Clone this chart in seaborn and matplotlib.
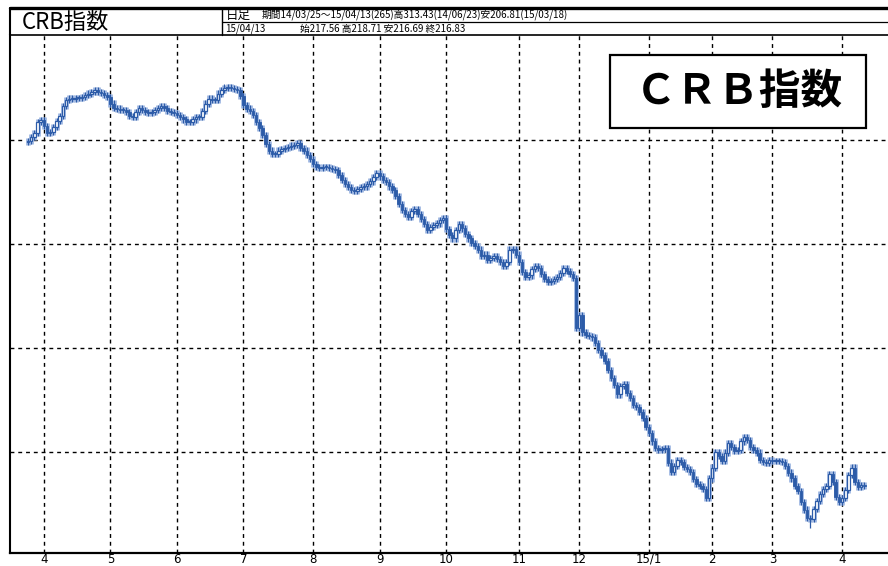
import numpy as np
import pandas as pd
import matplotlib
matplotlib.use("Agg")
import matplotlib.pyplot as plt
from matplotlib.lines import Line2D
from matplotlib.patches import Rectangle
import matplotlib.transforms as mtransforms
import seaborn as sns

# ---------------- data ----------------
start_date = "2014-03-25"
end_date = "2015-04-13"
holidays = ["2014-04-18", "2014-05-26", "2014-07-04", "2014-09-01", "2014-11-27",
            "2014-12-25", "2015-01-01", "2015-01-19", "2015-02-16", "2015-04-03"]

first_open = 299.5
closes = [
    299.8, 300.7, 301.7, 304.3, 304.8, 303.4, 301.7, 301.9, 303.1, 304.6,
    305.8, 308.2, 309.6, 309.9, 309.9, 310.1, 310.1, 310.3, 310.8, 311.1,
    311.5, 312.0, 311.5, 311.3, 310.8, 310.3, 308.7, 307.7, 307.5, 307.2,
    307.2, 306.7, 305.8, 305.5, 306.7, 307.7, 307.2, 306.7, 306.5, 306.7,
    307.2, 307.7, 308.2, 307.7, 307.0, 306.7, 306.5, 306.0, 305.5, 305.0,
    304.3, 304.3, 305.0, 305.5, 305.5, 307.0, 308.7, 309.9, 309.6, 309.6,
    311.1, 312.0, 312.5, 312.7, 312.5, 312.3, 312.0, 310.6, 308.4, 307.5,
    307.0, 306.0, 304.3, 302.9, 301.2, 299.0, 297.4, 296.6, 296.6, 297.4,
    297.8, 298.1, 298.3, 298.6, 298.8, 299.3, 298.1, 297.4, 296.4, 295.4,
    294.2, 293.5, 293.3, 293.5, 293.5, 293.3, 293.0, 292.8, 291.6, 290.4,
    289.4, 288.7, 288.0, 287.7, 288.2, 288.7, 288.9, 289.4, 290.1, 291.1,
    292.1, 291.3, 290.4, 289.9, 288.9, 288.0, 286.5, 284.6, 283.2, 282.2,
    281.5, 282.9, 283.4, 282.2, 281.0, 279.8, 278.4, 279.1, 279.6, 280.0,
    280.8, 281.2, 278.6, 277.2, 276.4, 278.4, 279.8, 278.8, 277.4, 276.4,
    275.2, 274.5, 273.6, 272.1, 272.4, 271.2, 271.6, 272.1, 271.4, 270.7,
    269.7, 270.7, 273.6, 273.8, 272.4, 270.7, 268.3, 267.1, 267.5, 269.0,
    269.7, 269.2, 267.8, 266.6, 265.9, 266.1, 266.6, 267.1, 268.0, 269.2,
    268.5, 267.8, 266.8, 254.8, 257.9, 253.8, 253.1, 252.9, 252.6, 251.2,
    249.5, 248.3, 246.9, 244.7, 242.8, 241.1, 238.9, 240.9, 241.3, 239.2,
    238.0, 236.3, 235.8, 234.6, 233.2, 231.0, 229.6, 227.6, 226.0, 225.5,
    225.7, 226.0, 222.4, 220.2, 221.6, 223.1, 222.6, 221.4, 220.9, 220.2,
    218.5, 217.3, 216.8, 216.1, 213.9, 218.7, 221.2, 225.0, 224.0, 222.8,
    224.8, 227.2, 226.2, 225.2, 225.5, 227.6, 228.6, 227.9, 226.2, 225.5,
    224.8, 223.1, 222.6, 222.4, 223.1, 222.8, 222.8, 222.8, 222.6, 221.6,
    220.0, 218.7, 216.8, 215.6, 213.0, 211.1, 209.1, 208.9, 211.3, 213.2,
    214.9, 216.1, 216.8, 219.7, 217.8, 214.2, 213.0, 213.9, 215.9, 219.5,
    221.2, 217.8, 216.6, 217.1, 216.83,
]
period_high = (62, 313.43)   # 14/06/23
period_low = (247, 206.81)   # 15/03/18
grid_levels = [300, 275, 250, 225]
month_labels = ["4", "5", "6", "7", "8", "9", "10", "11", "12", "15/1", "2", "3", "4"]

title_text = "CRB指数"
box_text = "ＣＲＢ指数"
header1_a = "日足"
header1_b = "期間14/03/25～15/04/13(265)高313.43(14/06/23)安206.81(15/03/18)"
header2_a = "15/04/13"
header2_b = "始217.56 高218.71 安216.69 終216.83"

# ---------------- build frame ----------------
dates = pd.bdate_range(start_date, end_date)
dates = dates[~dates.isin(pd.to_datetime(holidays))]
n = len(closes)
dates = dates[:n]
opens = [first_open] + closes[:-1]
df = pd.DataFrame({"date": dates, "open": opens, "close": closes})
df["i"] = np.arange(n)
df["up"] = df["close"] >= df["open"]
df["top"] = df[["open", "close"]].max(axis=1)
df["bot"] = df[["open", "close"]].min(axis=1)

month_key = df["date"].dt.to_period("M")
month_starts = df.loc[month_key != month_key.shift(1), "i"].tolist()[1:]

# ---------------- style ----------------
sns.set_theme(style="white")
plt.rcParams["font.family"] = ["Noto Sans CJK JP", "DejaVu Sans"]

W, H = 888, 566
fig = plt.figure(figsize=(W / 100, H / 100), dpi=100)
fig.patch.set_facecolor("white")

def fx(x):
    return x / W

def fy(y):
    return 1 - y / H

ax = fig.add_axes([fx(10), fy(553), 1 - fx(10), fy(35) - fy(553)])
ax.set_facecolor("white")

# grid
for m in month_starts:
    ax.axvline(m, color="black", lw=1.0, ls=(0, (2.8, 2.8)), zorder=1)
for lv in grid_levels:
    ax.axhline(lv, color="black", lw=1.0, ls=(0, (2.8, 2.8)), zorder=1)

dark = "#2C5BA8"
halo = "#A9BFE5"
pad = 0.8
ax.vlines(df["i"], df["bot"] - pad, df["top"] + pad, color=halo, lw=3.6, zorder=2)
ax.vlines(df["i"], df["bot"] - pad, df["top"] + pad, color=dark, lw=0.9, zorder=3)
ax.vlines([period_high[0]], [df.loc[period_high[0], "top"]], [period_high[1]], color=dark, lw=0.9, zorder=3)
ax.vlines([period_low[0]], [period_low[1]], [df.loc[period_low[0], "bot"]], color=dark, lw=0.9, zorder=3)

heights = np.maximum(df["top"] - df["bot"], 0.3)
up = df["up"].values
ax.bar(df["i"][up], heights[up], bottom=df["bot"][up], width=0.8,
       color="white", edgecolor=dark, linewidth=0.9, zorder=4)
ax.bar(df["i"][~up], heights[~up], bottom=df["bot"][~up], width=0.8,
       color=dark, edgecolor=dark, linewidth=0.6, zorder=4)

ax.set_xlim(-5.7, 271.5)
ax.set_ylim(200.72, 325.24)
ax.set_xticks([])
ax.set_yticks([])
# month labels just below the frame (baseline aligned)
trans = mtransforms.blended_transform_factory(ax.transData, fig.transFigure)
for m, lab in zip(month_starts, month_labels):
    ax.text(m, fy(563), lab, transform=trans, fontsize=8.5, ha="center",
            va="baseline", color="black", clip_on=False,
            family=["Liberation Sans Narrow", "DejaVu Sans"])

for s in ["top", "left", "bottom"]:
    ax.spines[s].set_color("black")
ax.spines["top"].set_linewidth(1.2)
ax.spines["left"].set_linewidth(1.5)
ax.spines["bottom"].set_linewidth(1.6)
ax.spines["right"].set_visible(False)
ax.grid(False)

# header lines
fig.add_artist(Line2D([fx(10), 1], [fy(8), fy(8)], color="black", lw=2.4))
fig.add_artist(Line2D([fx(10), fx(10)], [fy(8), fy(35)], color="black", lw=1.5))
fig.add_artist(Line2D([fx(222), fx(222)], [fy(8), fy(35)], color="black", lw=1.0))
fig.add_artist(Line2D([fx(222), 1], [fy(22), fy(22)], color="black", lw=0.9))

fig.text(fx(22), fy(22), title_text, fontsize=16, va="center", ha="left", color="black")
fig.text(fx(226), fy(15), header1_a, fontsize=9, va="center", ha="left", color="black")
fig.text(fx(262), fy(15.5), header1_b, fontsize=7, va="center", ha="left", color="black")
fig.text(fx(225), fy(29), header2_a, fontsize=7, va="center", ha="left", color="black")
fig.text(fx(300), fy(29), header2_b, fontsize=7, va="center", ha="left", color="black")

# label box
fig.add_artist(Rectangle((fx(610), fy(128)), fx(866) - fx(610), fy(55) - fy(128),
                         transform=fig.transFigure, facecolor="white",
                         edgecolor="black", lw=1.6, zorder=10))
fig.text(fx(739), fy(92), box_text, fontsize=30, fontweight="bold",
         va="center", ha="center", color="black", zorder=11)

fig.savefig("out.png", dpi=100, facecolor="white")
